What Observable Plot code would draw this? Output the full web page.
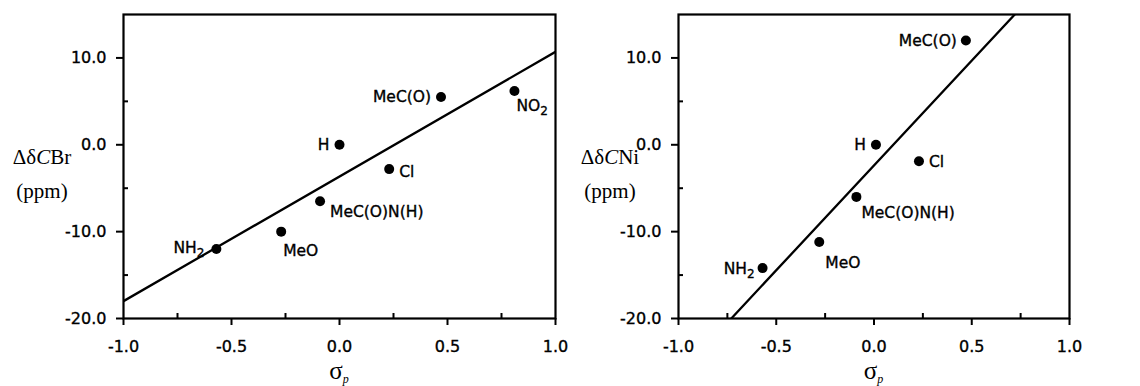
<!DOCTYPE html>
<html>
<head>
<meta charset="utf-8">
<script src="https://cdn.jsdelivr.net/npm/d3@7"></script>
<script src="https://cdn.jsdelivr.net/npm/@observablehq/plot@0.6"></script>
<style>
  html, body { margin: 0; padding: 0; background: #fff; }
  #wrap { display: flex; width: 1140px; height: 386px; overflow: hidden; position: relative; }
  svg { overflow: visible; }
</style>
</head>
<body>
<div id="wrap"></div>
<script>
// ---- data ----
const labelsBr = ["NH₂", "MeO", "MeC(O)N(H)", "H", "Cl", "MeC(O)", "NO₂"];
const sigmaBr  = [-0.57, -0.27, -0.09, 0.00, 0.23, 0.47, 0.81];
const shiftBr  = [-12.0, -10.0, -6.5, 0.0, -2.8, 5.5, 6.2];

const labelsNi = ["NH₂", "MeO", "MeC(O)N(H)", "H", "Cl", "MeC(O)"];
const sigmaNi  = [-0.57, -0.28, -0.09, 0.01, 0.23, 0.47];
const shiftNi  = [-14.2, -11.2, -6.0, 0.0, -1.9, 12.0];

const fitBrX = [-1.0, 1.0];
const fitBrY = [-18.0, 10.7];
const fitNiX = [-0.73, 0.72];
const fitNiY = [-20.0, 15.0];

const xTicks = [-1.0, -0.5, 0.0, 0.5, 1.0];
const xMinor = [-0.75, -0.25, 0.25, 0.75];
const yTicks = [-20, -10, 0, 10];
const yMinor = [-15, -5, 5];

// ---- label placement (layout, not data) ----
const placeBr = [
  {dx: -12, dy: -1, anchor: "end"},
  {dx: 2, dy: 19, anchor: "start"},
  {dx: 10, dy: 11, anchor: "start"},
  {dx: -10, dy: 0, anchor: "end"},
  {dx: 10, dy: 3, anchor: "start"},
  {dx: -10, dy: 0, anchor: "end"},
  {dx: 2, dy: 15, anchor: "start"}
];
const placeNi = [
  {dx: -8, dy: 1, anchor: "end"},
  {dx: 6, dy: 21, anchor: "start"},
  {dx: 5, dy: 16, anchor: "start"},
  {dx: -10, dy: 0, anchor: "end"},
  {dx: 10, dy: 1, anchor: "start"},
  {dx: -9, dy: 0, anchor: "end"}
];

const SANS = "DejaVu Sans, Liberation Sans, Arial, sans-serif";
const SERIF = "Liberation Serif, Times New Roman, serif";

function panel({labels, sigma, shift, fitX, fitY, place, width, marginLeft, marginRight, yName}) {
  const pts = labels.map((l, i) => ({label: l, s: sigma[i], v: shift[i]}));
  const fit = fitX.map((x, i) => ({x, y: fitY[i]}));
  const textMarks = pts.map((p, i) => Plot.text([p], {
    x: "s", y: "v", text: "label",
    dx: place[i].dx, dy: place[i].dy, textAnchor: place[i].anchor,
    fontSize: 15.5, fill: "#000"
  }));
  const plot = Plot.plot({
    width, height: 386,
    marginLeft, marginRight, marginTop: 14, marginBottom: 68,
    style: {fontFamily: SANS, background: "transparent", color: "#000", overflow: "visible"},
    x: {domain: [-1, 1]},
    y: {domain: [-20, 15]},
    marks: [
      Plot.line(fit, {x: "x", y: "y", stroke: "#000", strokeWidth: 2.3, clip: true}),
      Plot.dot(pts, {x: "s", y: "v", r: 5, fill: "#000", stroke: "none"}),
      ...textMarks,
      Plot.axisX(xTicks, {anchor: "bottom", tickSize: 7, tickPadding: 15, strokeWidth: 2,
        tickFormat: d => d.toFixed(1), fontSize: 16, label: null}),
      Plot.axisX(xMinor, {anchor: "bottom", tickSize: -5, strokeWidth: 2, text: null, label: null}),
      Plot.axisY(yTicks, {anchor: "left", tickSize: 7, tickPadding: 10, strokeWidth: 2,
        tickFormat: d => d.toFixed(1), fontSize: 16, label: null}),
      Plot.axisY(yMinor, {anchor: "left", tickSize: -5, strokeWidth: 2, text: null, label: null}),
      Plot.frame({stroke: "#000", strokeWidth: 2.2})
    ]
  });
  const svg = d3.select(plot);
  // thicken sans text slightly (scanned look) and render subscript 2 properly
  svg.selectAll("text").each(function() {
    const el = d3.select(this);
    el.attr("stroke", "#000").attr("stroke-width", 0.35);
    const s = el.text();
    if (s.includes("₂") && this.childElementCount === 0) {
      const base = s.replace("₂", "");
      el.text(null);
      el.append("tspan").text(base);
      el.append("tspan").attr("font-size", 12).attr("dy", 4).text("2");
    }
  });
  // y-axis title
  const t = svg.append("text")
    .attr("x", yName.x).attr("y", 164)
    .attr("text-anchor", "middle")
    .attr("font-family", SERIF).attr("font-size", 21).attr("fill", "#000");
  t.append("tspan").text("Δδ");
  t.append("tspan").attr("font-style", "italic").text("C");
  t.append("tspan").text(yName.text);
  svg.append("text")
    .attr("x", yName.x).attr("y", 198)
    .attr("text-anchor", "middle")
    .attr("font-family", SERIF).attr("font-size", 21).attr("fill", "#000")
    .text("(ppm)");
  // x-axis title
  const cx = (marginLeft + (width - marginRight)) / 2;
  const xt = svg.append("text")
    .attr("x", cx).attr("y", 379)
    .attr("text-anchor", "middle")
    .attr("font-family", SERIF).attr("font-size", 25).attr("fill", "#000");
  xt.append("tspan").text("σ");
  xt.append("tspan").attr("font-size", 12).attr("font-style", "italic").attr("dy", 4).text("p");
  return plot;
}

const wrap = document.getElementById("wrap");
wrap.appendChild(panel({
  labels: labelsBr, sigma: sigmaBr, shift: shiftBr, fitX: fitBrX, fitY: fitBrY, place: placeBr,
  width: 560, marginLeft: 123, marginRight: 5, yName: {x: 42, text: "Br"}
}));
wrap.appendChild(panel({
  labels: labelsNi, sigma: sigmaNi, shift: shiftNi, fitX: fitNiX, fitY: fitNiY, place: placeNi,
  width: 580, marginLeft: 118, marginRight: 71, yName: {x: 50, text: "Ni"}
}));
</script>
</body>
</html>
